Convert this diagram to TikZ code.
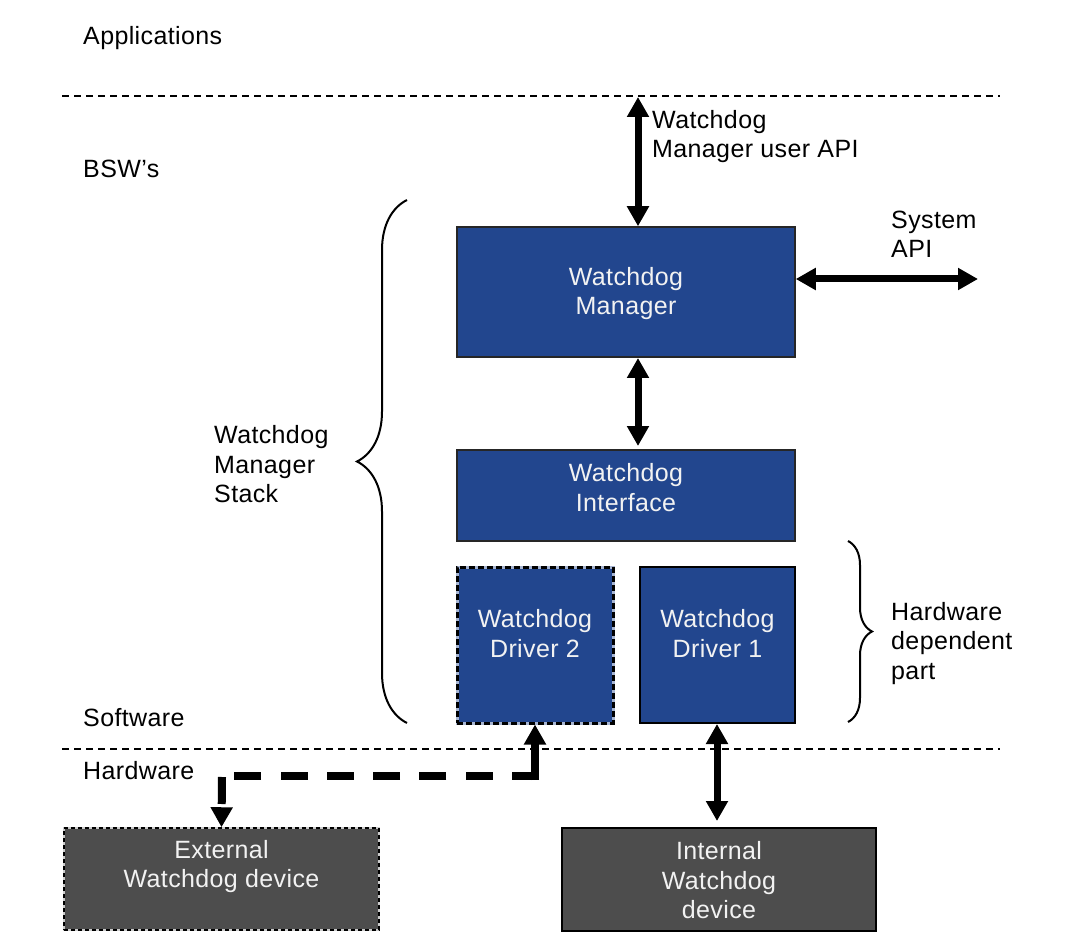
\documentclass[tikz,border=0pt]{standalone}
\usepackage{fontspec}
\setmainfont[LetterSpace=1.5]{Liberation Sans}
\usetikzlibrary{arrows.meta,decorations.pathreplacing}
\definecolor{wdblue}{HTML}{22468E}
\definecolor{wdgray}{HTML}{4D4D4D}
\definecolor{wdtext}{HTML}{F2F2F2}
\begin{document}
\begin{tikzpicture}[x=1pt,y=-1pt,
  txt/.style={font=\fontsize{25}{29.5}\selectfont, inner sep=0pt, align=left, yshift=-2.5pt},
  intxt/.style={font=\fontsize{25}{29.5}\selectfont, inner sep=0pt, align=center, text=wdtext, yshift=-2.5pt},
  bluebox/.style={draw=black!85, line width=1.5pt, fill=wdblue, minimum width=#1, inner sep=0pt},
  graybox/.style={fill=wdgray, inner sep=0pt},
  sepline/.style={line width=1.2pt, dash pattern=on 7pt off 5pt},
  bigarrow/.style={line width=7pt, {Triangle[width=21pt,length=20pt]}-{Triangle[width=21pt,length=20pt]}},
  endarrow/.style={-{Triangle[width=21pt,length=20pt]}},
  thickdash/.style={line width=8pt, dash pattern=on 27pt off 19.3pt},
  bracestyle/.style={line width=2pt, decorate, decoration={brace, amplitude=#1}}
]
\useasboundingbox (0,0) rectangle (1066,941);

% separator lines
\coordinate (s1l) at (62,96); \coordinate (s1r) at (1000,96);
\coordinate (s2l) at (62,749); \coordinate (s2r) at (1000,749);
\draw[sepline] (s1l) -- (s1r);
\draw[sepline] (s2l) -- (s2r);

% layer labels
\node[txt, anchor=west] (apps) at (83,36) {Applications};
\node[txt, anchor=west] (bsw) at (83,166) {BSW’s};
\node[txt, anchor=west] (sw) at (83,715) {Software};
\node[txt, anchor=west] (hw) at (83,768) {Hardware};

% boxes
\node[bluebox=338pt, minimum height=130pt] (mgr) at (626,292) {};
\node[intxt] (mgrt) at (626,291) {Watchdog\\Manager};
\node[bluebox=338pt, minimum height=91pt] (wif) at (626,495.5) {};
\node[intxt] (wift) at (626,485) {Watchdog\\Interface};
\node[bluebox=156pt, minimum height=156pt, draw=wdblue!40, line width=3pt,
      postaction={draw=black, line width=3pt, dash pattern=on 6pt off 3pt}] (drv2) at (535,645) {};
\node[intxt] (drv2t) at (535,631) {Watchdog\\Driver 2};
\node[bluebox=155pt, minimum height=156pt, line width=2pt, draw=black] (drv1) at (717.5,645) {};
\node[intxt] (drv1t) at (717.5,631) {Watchdog\\Driver 1};

\node[graybox, minimum width=315pt, minimum height=102pt, draw=black!20, line width=1.5pt,
      postaction={draw=black, line width=1.5pt, dash pattern=on 4pt off 3pt}] (ext) at (221.5,879) {};
\node[intxt] (extt) at (221.5,864) {External\\Watchdog device};
\node[graybox, minimum width=314pt, minimum height=103pt, draw=black, line width=2pt] (int) at (719,879.5) {};
\node[intxt] (intt) at (719,878) {Internal\\Watchdog\\device};

% arrows
\coordinate (apitop) at (638,97);
\draw[bigarrow] (apitop) -- (apitop |- mgr.north);
\node[txt, anchor=west] (apilbl) at (652,134) {Watchdog\\Manager user API};

\coordinate (sysend) at (978,279);
\draw[bigarrow] (sysend -| mgr.east) -- (sysend);
\node[txt, anchor=west] (syslbl) at (891,232) {System\\API};

\coordinate (mwa) at (638,358); \coordinate (mwb) at (638,446);
\draw[bigarrow] (mwa) -- (mwb);

\coordinate (intarr) at (717,821);
\draw[bigarrow] (drv1.south -| intarr) -- (intarr);

% dashed hardware link driver 2 <-> external device
\coordinate (corner) at (535,776);
\coordinate (lcorner) at (222,776);
\draw[line width=8pt, endarrow] ([yshift=-4pt]corner) -- (drv2.south);
\draw[thickdash] ([xshift=4pt]corner) -- ([xshift=10pt]lcorner);
\draw[thickdash, endarrow] ([yshift=-1pt]lcorner) -- (ext.north);

% braces
\coordinate (b1a) at (407,723); \coordinate (b1b) at (407,200);
\draw[bracestyle=50pt] (b1a) -- (b1b);
\node[txt, anchor=west] (stack) at (214,462) {Watchdog\\Manager\\Stack};

\coordinate (b2a) at (848,541); \coordinate (b2b) at (848,722);
\draw[bracestyle=24pt] (b2a) -- (b2b);
\node[txt, anchor=west] (hwdep) at (891,641) {Hardware\\dependent\\part};
\end{tikzpicture}
\end{document}
